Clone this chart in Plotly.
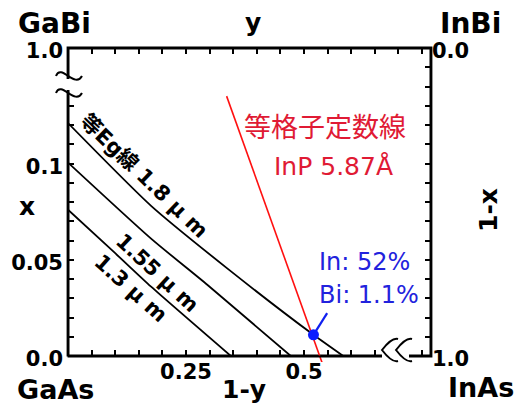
import plotly.graph_objects as go

# ---------------- data ----------------
# iso-bandgap curves in the (1-y, x) plane
eg18_u = [0.0, 0.176, 0.34, 0.52, 0.583]
eg18_x = [0.121, 0.078, 0.045, 0.011, 0.0]
eg155_u = [0.0, 0.176, 0.30, 0.472]
eg155_x = [0.1005, 0.061, 0.036, 0.0]
eg13_u = [0.0, 0.10, 0.176, 0.345]
eg13_x = [0.076, 0.0534, 0.036, 0.0]

# lattice-matched (InP, 5.87 A) line
lat_u = [0.336, 0.539]
lat_x = [0.135, -0.004]

# lattice-matched 1.8 um composition: In 52 %, Bi 1.1 %
pt_u = [0.52]
pt_x = [0.011]
leader_u = [0.52, 0.549]
leader_x = [0.011, 0.0223]

# axis ticks
bottom_ticks = [0.05, 0.10, 0.15, 0.20, 0.25, 0.30, 0.35, 0.40, 0.45, 0.50, 0.55, 0.60, 0.65, 0.75]
bottom_text = ["", "", "", "", "0.25", "", "", "", "", "0.5", "", "", "", ""]
top_ticks = [0.05, 0.10, 0.15, 0.20, 0.25, 0.30, 0.35, 0.40, 0.45, 0.50, 0.55, 0.60, 0.65, 0.70, 0.75]
left_ticks = [0.0, 0.01, 0.02, 0.03, 0.04, 0.05, 0.06, 0.07, 0.08, 0.09, 0.10, 0.11, 0.12, 0.13, 0.16]
left_text = ["0.0", "", "", "", "", "0.05", "", "", "", "", "0.1", "", "", "", "1.0"]
right_ticks = [0.0, 0.01, 0.02, 0.03, 0.04, 0.05, 0.06, 0.07, 0.08, 0.09, 0.10, 0.11, 0.12, 0.13, 0.14, 0.15, 0.16]
right_text = ["1.0"] + [""] * 15 + ["0.0"]

# ---------------- layout geometry (pixels) ----------------
W, H = 518, 405
L_, R_, T_, B_ = 68, 431, 48, 356     # plot box
OVER = 6                              # the lattice line runs a little past the x axis
XMAX, YMAX = 0.769, 0.16
YMIN3 = -YMAX * OVER / (B_ - T_)

XDOM = [L_ / W, R_ / W]
YDOM = [(H - B_) / H, (H - T_) / H]
YDOM3 = [(H - B_ - OVER) / H, (H - T_) / H]

# axis-break gaps (pixels)
GAP_L = (79, 90)      # on the x = 0 edge
GAP_B = (382, 409)    # on the 1-y axis

# frame edges, set a little off the plot-area boundary
FL, FR, FT, FB = L_ - 0.4, R_ + 0.4, T_ - 0.4, B_ + 0.4


def pxx(p):
    return p / W


def pxy(p):
    return (H - p) / H


def u_of(p):
    return (p - L_) / (R_ - L_) * XMAX


def x_of(p):
    return (B_ - p) / (B_ - T_) * YMAX


def path(points):
    parts = []
    for c, x, y in points:
        parts.append((c + " " if c else "") + "{:.5f},{:.5f}".format(pxx(x), pxy(y)))
    return " ".join(parts)


BOLD = dict(family="DejaVu Sans", weight="bold", color="black")
RED_T = "#e01a34"
BLUE_T = "#2222dd"

fig = go.Figure()

for u, x in [(eg18_u, eg18_x), (eg155_u, eg155_x), (eg13_u, eg13_x)]:
    fig.add_trace(go.Scatter(x=u, y=x, mode="lines",
                             line=dict(color="black", width=1.8, shape="spline", smoothing=0.6),
                             hoverinfo="skip", showlegend=False))

# frame of the data box (the inner half of the stroke stays inside the plot area)
fu = [0, 0, None, 0, 0, XMAX, XMAX, None, u_of(GAP_B[1]), XMAX, None, u_of(GAP_B[0]), 0]
fx = [0, x_of(GAP_L[1]), None, x_of(GAP_L[0]), YMAX, YMAX, 0, None, 0, 0, None, 0, 0]
fig.add_trace(go.Scatter(x=fu, y=fx, mode="lines", line=dict(color="black", width=3),
                         hoverinfo="skip", showlegend=False))

# traces that attach the top and right axes
fig.add_trace(go.Scatter(x=pt_u, y=pt_x, mode="markers", marker=dict(opacity=0), xaxis="x2", yaxis="y",
                         showlegend=False, hoverinfo="skip"))
fig.add_trace(go.Scatter(x=pt_u, y=pt_x, mode="markers", marker=dict(opacity=0), xaxis="x", yaxis="y2",
                         showlegend=False, hoverinfo="skip"))

# lattice line, leader and composition point on a twin of the data axes that reaches below x = 0
fig.add_trace(go.Scatter(x=lat_u, y=lat_x, mode="lines", line=dict(color="#ff1010", width=1.6),
                         showlegend=False, xaxis="x3", yaxis="y3"))
fig.add_trace(go.Scatter(x=leader_u, y=leader_x, mode="lines", line=dict(color="#1020f0", width=2.2),
                         showlegend=False, xaxis="x3", yaxis="y3"))
fig.add_trace(go.Scatter(x=pt_u, y=pt_x, mode="markers", marker=dict(color="#0a1cff", size=11),
                         showlegend=False, xaxis="x3", yaxis="y3", cliponaxis=False))

# outer half of the plot box and the white gaps of the axis breaks, on a full-page pixel layer
fig.add_trace(go.Scatter(x=[FL, FR, FR, FL, FL], y=[FB, FB, FT, FT, FB], mode="lines",
                         line=dict(color="black", width=2), showlegend=False, hoverinfo="skip",
                         xaxis="x4", yaxis="y4"))
for gx0, gy0, gx1, gy1 in [(L_ - 5, GAP_L[0], L_ + 6, GAP_L[1]), (GAP_B[0], B_ - 4, GAP_B[1], B_ + 3)]:
    fig.add_trace(go.Scatter(x=[gx0, gx1, gx1, gx0, gx0], y=[gy0, gy0, gy1, gy1, gy0], mode="lines",
                             fill="toself", fillcolor="white", line=dict(width=0, color="white"),
                             showlegend=False, hoverinfo="skip", xaxis="x4", yaxis="y4"))

tick_font = dict(BOLD, size=21)
common = dict(showline=False, ticks="inside", ticklen=6, tickwidth=1.5, automargin=False,
              tickcolor="black", showgrid=False, zeroline=False, tickfont=tick_font)
hidden = dict(visible=False, automargin=False, fixedrange=True)

fig.update_layout(
    width=W, height=H, margin=dict(l=0, r=0, t=0, b=0, autoexpand=False),
    paper_bgcolor="white", plot_bgcolor="rgba(0,0,0,0)",
    xaxis=dict(common, range=[0, XMAX], domain=XDOM, anchor="y", tickmode="array",
               tickvals=bottom_ticks, ticktext=bottom_text, ticklabelstandoff=1),
    xaxis2=dict(common, range=[0, XMAX], overlaying="x", side="top", anchor="y", tickmode="array",
                tickvals=top_ticks, ticktext=[""] * len(top_ticks)),
    yaxis=dict(common, range=[0, YMAX], domain=YDOM, anchor="x", tickmode="array",
               tickvals=left_ticks, ticktext=left_text, ticklabelstandoff=4, ticklabelshift=3),
    yaxis2=dict(common, range=[0, YMAX], overlaying="y", side="right", anchor="x", tickmode="array",
                tickvals=right_ticks, ticktext=right_text, ticklabelstandoff=0, ticklabelshift=3),
    xaxis3=dict(hidden, range=[0, XMAX], domain=XDOM, anchor="y3"),
    yaxis3=dict(hidden, range=[YMIN3, YMAX], domain=YDOM3, anchor="x3"),
    xaxis4=dict(hidden, range=[0, W], domain=[0, 1], anchor="y4"),
    yaxis4=dict(hidden, range=[H, 0], domain=[0, 1], anchor="x4"),
)

ann = []
# corner compounds and axis variables
for txt, cx, cy, size, ang in [("GaBi", 54, 24, 28, 0), ("InBi", 470, 23, 28, 0),
                               ("GaAs", 55, 389, 27, 0), ("InAs", 481, 387, 27, 0),
                               ("y", 253, 22, 25, 0), ("1-y", 244, 389, 25, 0),
                               ("x", 27, 207, 25, 0), ("1-x", 488, 210, 25, -90)]:
    ann.append(dict(text=txt, x=pxx(cx), y=pxy(cy), xref="paper", yref="paper", showarrow=False,
                    font=dict(BOLD, size=size), textangle=ang, xanchor="center", yanchor="middle"))

# iso-Eg labels along the curves
eg_font = dict(family="DejaVu Sans, Noto Sans CJK JP", weight="bold", size=21, color="black")
for txt, u, x, ang in [("等Eg線 1.8 μ m", 0.161, 0.0935, 44),
                       ("1.55 μ m", 0.1886, 0.0429, 43),
                       ("1.3 μ m", 0.1314, 0.0351, 42)]:
    ann.append(dict(text=txt, x=u, y=x, xref="x", yref="y", showarrow=False, font=eg_font,
                    textangle=ang, xanchor="center", yanchor="middle"))

ann.append(dict(text="等格子定数線", x=0.5434, y=0.1195, xref="x", yref="y", showarrow=False,
                font=dict(family="Noto Sans CJK JP", size=27, color=RED_T), xanchor="center", yanchor="middle"))
ann.append(dict(text="InP 5.87Å", x=0.5625, y=0.0985, xref="x", yref="y", showarrow=False,
                font=dict(family="DejaVu Sans", size=25, color=RED_T), xanchor="center", yanchor="middle"))
ann.append(dict(text="In: 52%", x=0.527, y=0.0488, xref="x", yref="y", showarrow=False,
                font=dict(family="DejaVu Sans", size=24, color=BLUE_T), xanchor="left", yanchor="middle"))
ann.append(dict(text="Bi: 1.1%", x=0.527, y=0.0315, xref="x", yref="y", showarrow=False,
                font=dict(family="DejaVu Sans", size=24, color=BLUE_T), xanchor="left", yanchor="middle"))
fig.update_layout(annotations=ann)

# break marks: two tildes across the left axis, two chevrons across the bottom axis
shapes = []
for cy in (75, 92):
    shapes.append(dict(type="path", xref="paper", yref="paper", layer="above",
                       path=path([("M", 56, cy + 1), ("C", 61, cy - 12), (None, 75, cy + 14), (None, 82, cy + 1)]),
                       line=dict(color="black", width=2)))
for ox in (381, 395):
    shapes.append(dict(type="path", xref="paper", yref="paper", layer="above",
                       path=path([("M", ox + 17, 339), ("Q", ox + 11, 337), (None, ox + 1, 350),
                                  ("Q", ox + 11, 363), (None, ox + 17, 361)]),
                       line=dict(color="black", width=2)))
fig.update_layout(shapes=shapes)

fig.write_html("out.html")
